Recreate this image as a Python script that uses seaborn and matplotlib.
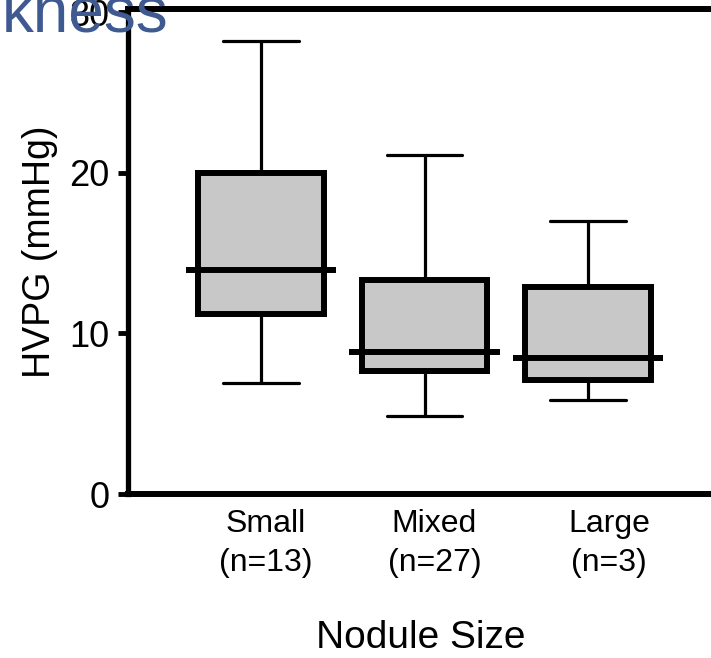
import matplotlib
matplotlib.use("Agg")
import matplotlib.pyplot as plt
import matplotlib.transforms as mtransforms
import seaborn as sns
import pandas as pd
import numpy as np

# ---- data ----
categories = ["Small", "Mixed", "Large"]
tick_labels = ["Small\n(n=13)", "Mixed\n(n=27)", "Large\n(n=3)"]
whisker_low = [6.9, 4.85, 5.85]
q1 = [11.2, 7.65, 7.1]
median = [13.95, 8.85, 8.45]
q3 = [20.0, 13.35, 12.9]
whisker_high = [28.2, 21.1, 17.0]
yticks = [0, 10, 20, 30]

# five-number summaries -> small table for seaborn
rows = []
for c, a, b, m, d, e in zip(categories, whisker_low, q1, median, q3, whisker_high):
    for v in (a, b, m, d, e):
        rows.append({"size": c, "hvpg": v})
df = pd.DataFrame(rows)

sns.set_style("white")
plt.rcParams["font.family"] = ["Liberation Sans", "DejaVu Sans"]
plt.rcParams["text.color"] = "black"
plt.rcParams["axes.labelcolor"] = "black"
plt.rcParams["xtick.color"] = "black"
plt.rcParams["ytick.color"] = "black"

W, H = 711, 658
fig = plt.figure(figsize=(W / 100, H / 100), dpi=100)
left_px, right_px, top_px, bottom_px = 128, 780, 9, 494
ax = fig.add_axes([left_px / W, 1 - bottom_px / H,
                   (right_px - left_px) / W, (bottom_px - top_px) / H])

sns.boxplot(data=df, x="size", y="hvpg", order=categories, ax=ax,
            whis=np.inf, width=0.77, color="#c8c8c8", linecolor="black",
            linewidth=4.3, capwidths=0.46,
            whiskerprops={"linewidth": 2.3},
            capprops={"linewidth": 2.3},
            medianprops={"linewidth": 0},
            boxprops={"linewidth": 4.3, "edgecolor": "black", "facecolor": "#c8c8c8"},
            showfliers=False)

# extended median bars
ax.hlines(median, np.arange(len(categories)) - 0.46, np.arange(len(categories)) + 0.46,
          color="black", linewidth=4.3, zorder=5)

spacing = 163.5
x0_px = 261
ax.set_xlim(-(x0_px - left_px) / spacing, (right_px - x0_px) / spacing)
ax.set_ylim(0, 30.2)
ax.set_yticks(yticks)
ax.set_xticks(range(len(categories)))
ax.set_xticklabels(tick_labels, fontsize=23, linespacing=1.4, color="black")
ax.tick_params(axis="y", length=7.5, width=3.5, labelsize=26, pad=6, colors="black", left=True)
ax.tick_params(axis="x", length=0, pad=11)

offsets = [5, 10, 21]
for lab, off in zip(ax.get_xticklabels(), offsets):
    lab.set_transform(lab.get_transform() + mtransforms.ScaledTranslation(off / 100, 0, fig.dpi_scale_trans))

ax.set_ylabel("HVPG (mmHg)", fontsize=27, labelpad=8, color="black")
ax.set_xlabel("Nodule Size", fontsize=28, labelpad=30, color="black")
ax.xaxis.label.set_x((421 - left_px) / (right_px - left_px))

for side in ["left", "bottom", "top", "right"]:
    ax.spines[side].set_visible(True)
    ax.spines[side].set_color("black")
ax.spines["left"].set_linewidth(3.8)
ax.spines["bottom"].set_linewidth(4.3)
ax.spines["top"].set_linewidth(4.3)
ax.spines["right"].set_linewidth(4.3)

fig.text(0.002, 1 - 32 / H, "kness", fontsize=46, color="#3f5a91",
         ha="left", va="baseline", zorder=10)

fig.savefig("out.png", dpi=100)
